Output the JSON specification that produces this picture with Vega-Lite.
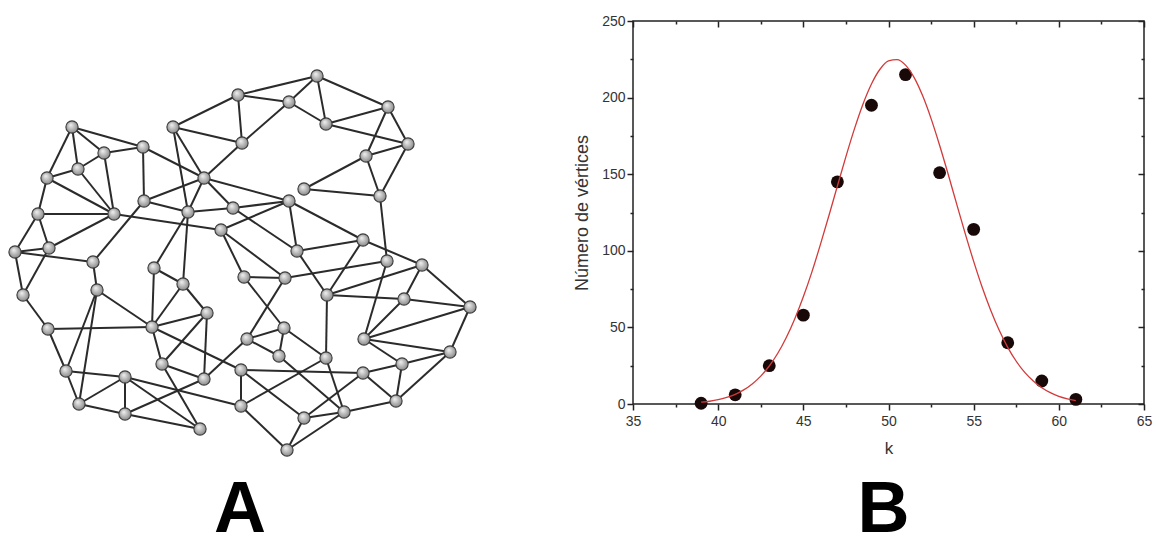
{
  "$schema": "https://vega.github.io/schema/vega-lite/v6.json",
  "background": "white",
  "padding": {"left": 0, "top": 13, "right": 0, "bottom": 0},
  "spacing": 92,
  "config": {"view": {"stroke": null}, "font": "Liberation Sans"},
  "datasets": {
    "nodes": [{"id":1,"x":317,"y":75},{"id":2,"x":238,"y":94},{"id":3,"x":289,"y":101},{"id":4,"x":388,"y":106},{"id":5,"x":173,"y":126},{"id":6,"x":326,"y":123},{"id":7,"x":72,"y":126},{"id":8,"x":408,"y":143},{"id":9,"x":242,"y":142},{"id":10,"x":143,"y":146},{"id":11,"x":104,"y":152},{"id":12,"x":366,"y":155},{"id":13,"x":78,"y":168},{"id":14,"x":47,"y":177},{"id":15,"x":204,"y":177},{"id":16,"x":304,"y":188},{"id":17,"x":380,"y":195},{"id":18,"x":144,"y":200},{"id":19,"x":289,"y":200},{"id":20,"x":233,"y":207},{"id":21,"x":188,"y":211},{"id":22,"x":38,"y":213},{"id":23,"x":114,"y":213},{"id":24,"x":221,"y":229},{"id":25,"x":363,"y":239},{"id":26,"x":49,"y":247},{"id":27,"x":15,"y":251},{"id":28,"x":297,"y":250},{"id":29,"x":93,"y":261},{"id":30,"x":387,"y":260},{"id":31,"x":422,"y":264},{"id":32,"x":154,"y":267},{"id":33,"x":244,"y":276},{"id":34,"x":285,"y":277},{"id":35,"x":183,"y":283},{"id":36,"x":97,"y":289},{"id":37,"x":327,"y":294},{"id":38,"x":23,"y":294},{"id":39,"x":404,"y":298},{"id":40,"x":470,"y":306},{"id":41,"x":207,"y":312},{"id":42,"x":152,"y":326},{"id":43,"x":48,"y":328},{"id":44,"x":284,"y":327},{"id":45,"x":247,"y":338},{"id":46,"x":364,"y":338},{"id":47,"x":279,"y":355},{"id":48,"x":326,"y":357},{"id":49,"x":450,"y":351},{"id":50,"x":162,"y":363},{"id":51,"x":402,"y":363},{"id":52,"x":66,"y":370},{"id":53,"x":241,"y":369},{"id":54,"x":363,"y":372},{"id":55,"x":204,"y":378},{"id":56,"x":125,"y":376},{"id":57,"x":79,"y":403},{"id":58,"x":241,"y":405},{"id":59,"x":396,"y":400},{"id":60,"x":344,"y":411},{"id":61,"x":125,"y":413},{"id":62,"x":304,"y":417},{"id":63,"x":200,"y":428},{"id":64,"x":287,"y":449}],
    "edges": [{"s":1,"t":2},{"s":1,"t":3},{"s":1,"t":6},{"s":1,"t":4},{"s":2,"t":3},{"s":2,"t":9},{"s":2,"t":5},{"s":3,"t":6},{"s":3,"t":9},{"s":6,"t":4},{"s":6,"t":8},{"s":4,"t":8},{"s":4,"t":12},{"s":12,"t":8},{"s":12,"t":17},{"s":8,"t":17},{"s":12,"t":16},{"s":16,"t":17},
      {"s":5,"t":9},{"s":5,"t":15},{"s":5,"t":21},{"s":9,"t":15},{"s":15,"t":21},{"s":15,"t":19},{"s":15,"t":20},{"s":20,"t":19},{"s":10,"t":15},{"s":18,"t":15},{"s":18,"t":21},{"s":21,"t":20},{"s":23,"t":24},{"s":24,"t":19},{"s":19,"t":28},{"s":19,"t":25},{"s":28,"t":25},{"s":25,"t":31},{"s":17,"t":30},{"s":20,"t":28},{"s":24,"t":33},{"s":24,"t":34},{"s":33,"t":34},{"s":28,"t":37},{"s":34,"t":30},{"s":34,"t":45},{"s":33,"t":44},
      {"s":7,"t":10},{"s":7,"t":11},{"s":7,"t":13},{"s":7,"t":14},{"s":11,"t":10},{"s":11,"t":13},{"s":11,"t":23},{"s":13,"t":23},{"s":14,"t":23},{"s":14,"t":13},{"s":14,"t":22},{"s":22,"t":23},{"s":22,"t":26},{"s":22,"t":27},{"s":26,"t":23},{"s":27,"t":26},{"s":10,"t":18},{"s":18,"t":29},{"s":21,"t":32},{"s":21,"t":35},
      {"s":27,"t":38},{"s":27,"t":29},{"s":26,"t":38},{"s":38,"t":43},{"s":43,"t":42},{"s":43,"t":52},{"s":52,"t":57},{"s":52,"t":36},{"s":57,"t":36},{"s":36,"t":29},{"s":36,"t":42},{"s":52,"t":56},{"s":57,"t":56},{"s":57,"t":61},{"s":56,"t":61},{"s":56,"t":63},{"s":61,"t":63},{"s":56,"t":58},{"s":61,"t":55},{"s":50,"t":63},{"s":50,"t":42},{"s":50,"t":55},{"s":50,"t":41},{"s":42,"t":41},{"s":42,"t":35},{"s":42,"t":32},{"s":32,"t":35},{"s":35,"t":41},{"s":41,"t":55},{"s":42,"t":53},{"s":55,"t":45},{"s":53,"t":58},
      {"s":25,"t":37},{"s":30,"t":46},{"s":31,"t":39},{"s":31,"t":40},{"s":37,"t":31},{"s":37,"t":39},{"s":39,"t":40},{"s":40,"t":49},{"s":40,"t":46},{"s":49,"t":46},{"s":49,"t":51},{"s":49,"t":59},{"s":51,"t":46},{"s":51,"t":59},{"s":51,"t":54},{"s":54,"t":59},{"s":54,"t":53},{"s":54,"t":62},{"s":59,"t":60},{"s":60,"t":64},{"s":60,"t":48},{"s":47,"t":60},{"s":48,"t":37},{"s":48,"t":58},{"s":44,"t":45},{"s":44,"t":47},{"s":45,"t":47},{"s":44,"t":48},{"s":53,"t":62},{"s":58,"t":64},{"s":62,"t":64},{"s":62,"t":60},{"s":39,"t":46}],
    "pts": [{"k":39,"n":0.5},{"k":41,"n":6},{"k":43,"n":25},{"k":45,"n":58},{"k":47,"n":145},{"k":49,"n":195},{"k":51,"n":215},{"k":53,"n":151},{"k":55,"n":114},{"k":57,"n":40},{"k":59,"n":15},{"k":61,"n":3}],
    "fit": [{"k":39,"n":1.2},{"k":39.5,"n":1.8},{"k":40,"n":2.8},{"k":40.5,"n":4.3},{"k":41,"n":6.3},{"k":41.5,"n":9.2},{"k":42,"n":13.1},{"k":42.5,"n":18.2},{"k":43,"n":24.8},{"k":43.5,"n":33.1},{"k":44,"n":43.4},{"k":44.5,"n":55.7},{"k":45,"n":70.0},{"k":45.5,"n":86.1},{"k":46,"n":104.0},{"k":46.5,"n":122.9},{"k":47,"n":142.3},{"k":47.5,"n":161.5},{"k":48,"n":179.6},{"k":48.5,"n":195.7},{"k":49,"n":208.9},{"k":49.5,"n":218.5},{"k":50,"n":223.9},{"k":50.5,"n":224.8},{"k":51,"n":221.2},{"k":51.5,"n":213.2},{"k":52,"n":201.3},{"k":52.5,"n":186.3},{"k":53,"n":168.9},{"k":53.5,"n":150.1},{"k":54,"n":130.6},{"k":54.5,"n":111.4},{"k":55,"n":93.1},{"k":55.5,"n":76.2},{"k":56,"n":61.2},{"k":56.5,"n":48.1},{"k":57,"n":37.0},{"k":57.5,"n":27.9},{"k":58,"n":20.6},{"k":58.5,"n":15.0},{"k":59,"n":10.6},{"k":59.5,"n":7.4},{"k":60,"n":5.0},{"k":60.5,"n":3.4},{"k":61,"n":2.2}]
  },
  "hconcat": [
    {
      "width": 480,
      "height": 440,
      "title": {"text": "A", "orient": "bottom", "anchor": "middle", "fontSize": 72, "fontWeight": "bold", "font": "Liberation Sans", "color": "#000000", "offset": 14},
      "layer": [
        {
          "data": {"name": "edges"},
          "transform": [
            {"lookup": "s", "from": {"data": {"name": "nodes"}, "key": "id", "fields": ["x", "y"]}, "as": ["sx", "sy"]},
            {"lookup": "t", "from": {"data": {"name": "nodes"}, "key": "id", "fields": ["x", "y"]}, "as": ["tx", "ty"]}
          ],
          "mark": {"type": "rule", "color": "#2b2b2b", "strokeWidth": 2},
          "encoding": {
            "x": {"field": "sx", "type": "quantitative", "scale": {"domain": [0, 480]}, "axis": null},
            "y": {"field": "sy", "type": "quantitative", "scale": {"domain": [20, 460], "reverse": true}, "axis": null},
            "x2": {"field": "tx"},
            "y2": {"field": "ty"}
          }
        },
        {
          "data": {"name": "nodes"},
          "mark": {
            "type": "point", "shape": "circle", "filled": true, "size": 150, "opacity": 1,
            "fill": {"gradient": "radial", "x1": 0.38, "y1": 0.32, "r1": 0, "x2": 0.5, "y2": 0.5, "r2": 0.6,
                     "stops": [{"offset": 0, "color": "#f4f4f4"}, {"offset": 1, "color": "#7a7a7a"}]},
            "stroke": "#3c3c3c", "strokeWidth": 1.1
          },
          "encoding": {
            "x": {"field": "x", "type": "quantitative", "scale": {"domain": [0, 480]}, "axis": null},
            "y": {"field": "y", "type": "quantitative", "scale": {"domain": [20, 460], "reverse": true}, "axis": null}
          }
        }
      ]
    },
    {
      "width": 511,
      "height": 383,
      "view": {"stroke": "#222222", "strokeWidth": 1.5},
      "title": {"text": "B", "orient": "bottom", "anchor": "middle", "fontSize": 72, "fontWeight": "bold", "font": "Liberation Sans", "color": "#000000", "offset": 19, "dx": -5},
      "resolve": {"axis": {"x": "independent", "y": "independent"}},
      "layer": [
        {
          "data": {"name": "pts"},
          "mark": {"type": "circle", "size": 165, "color": "#180808", "opacity": 1},
          "encoding": {
            "x": {"field": "k", "type": "quantitative", "scale": {"domain": [35, 65]},
              "axis": {"orient": "bottom", "values": [35,37.5,40,42.5,45,47.5,50,52.5,55,57.5,60,62.5,65],
                "labelExpr": "datum.value % 5 === 0 ? datum.label : ''", "labelOverlap": false, "labelFlush": false,
                "tickSize": {"condition": {"test": "datum.value % 5 === 0", "value": 6}, "value": 3},
                "tickColor": "#222222", "tickWidth": 1.5, "domain": false, "grid": false,
                "labelFont": "Liberation Sans", "labelFontSize": 14, "labelColor": "#333333", "labelPadding": 4,
                "title": "k", "titleFont": "Liberation Sans", "titleFontSize": 17, "titleFontWeight": "normal", "titleColor": "#333333", "titlePadding": 12}},
            "y": {"field": "n", "type": "quantitative", "scale": {"domain": [0, 250]},
              "axis": {"orient": "left", "values": [0,25,50,75,100,125,150,175,200,225,250],
                "labelExpr": "datum.value % 50 === 0 ? datum.label : ''", "labelOverlap": false, "labelFlush": false,
                "tickSize": {"condition": {"test": "datum.value % 50 === 0", "value": 6}, "value": 3},
                "tickColor": "#222222", "tickWidth": 1.5, "domain": false, "grid": false,
                "labelFont": "Liberation Sans", "labelFontSize": 14, "labelColor": "#333333", "labelPadding": 2,
                "title": "Número de vértices", "titleFont": "Liberation Sans", "titleFontSize": 18, "titleFontWeight": "normal", "titleColor": "#333333", "titlePadding": 10}}
          }
        },
        {
          "data": {"name": "fit"},
          "mark": {"type": "line", "color": "#d23a3a", "strokeWidth": 1.3, "interpolate": "monotone"},
          "encoding": {
            "x": {"field": "k", "type": "quantitative", "scale": {"domain": [35, 65]}, "axis": null},
            "y": {"field": "n", "type": "quantitative", "scale": {"domain": [0, 250]}, "axis": null}
          }
        },
        {
          "data": {"name": "pts"},
          "mark": {"type": "circle", "opacity": 0},
          "encoding": {
            "x": {"field": "k", "type": "quantitative", "scale": {"domain": [35, 65]},
              "axis": {"orient": "top", "values": [35,37.5,40,42.5,45,47.5,50,52.5,55,57.5,60,62.5,65], "labels": false, "title": null,
                "tickSize": {"condition": {"test": "datum.value % 5 === 0", "value": -6}, "value": -3},
                "tickColor": "#222222", "tickWidth": 1.5, "domain": false, "grid": false}},
            "y": {"field": "n", "type": "quantitative", "scale": {"domain": [0, 250]},
              "axis": {"orient": "right", "values": [0,25,50,75,100,125,150,175,200,225,250], "labels": false, "title": null,
                "tickSize": {"condition": {"test": "datum.value % 50 === 0", "value": -6}, "value": -3},
                "tickColor": "#222222", "tickWidth": 1.5, "domain": false, "grid": false}}
          }
        }
      ]
    }
  ]
}
